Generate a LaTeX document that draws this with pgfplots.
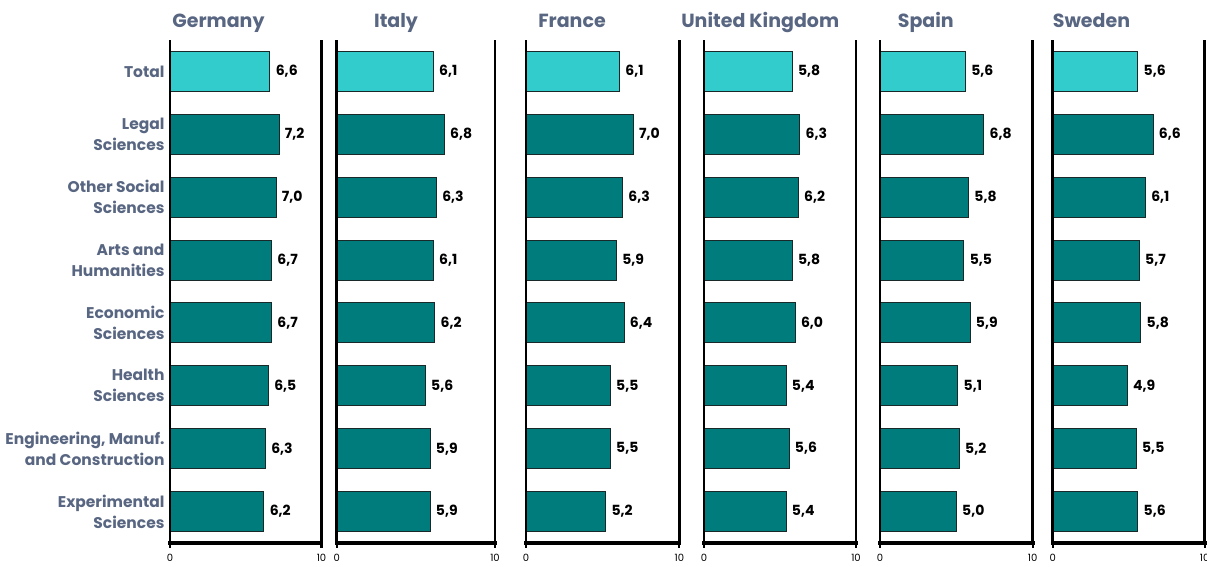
\documentclass[border=0pt]{standalone}
\usepackage{pgfplots}
\pgfplotsset{compat=1.18}
\usepackage{fontspec}
\setmainfont{Poppins}
\definecolor{lab}{RGB}{88,102,130}
\definecolor{tot}{RGB}{51,204,204}
\definecolor{oth}{RGB}{0,124,124}
\definecolor{edge}{RGB}{25,40,40}

\pgfplotsset{
  panel/.style n args={5}{
    name=#5,
    scale only axis, anchor=south west, at={(#1pt,24pt)},
    width=#2pt, height=503pt, clip=false,
    xmin=0, xmax=10, ymin=-0.5, ymax=7.5,
    xbar, bar width=40pt, bar shift=0pt,
    axis x line*=bottom, axis y line*=left,
    axis line style={-, line width=2.8pt, black},
    xtick={0,10}, xtick align=outside, major tick length=5pt,
    x tick style={line width=2.2pt, black},
    xticklabel style={font=\fontsize{10}{11}\selectfont, yshift=-3pt},
    /pgf/number format/assume math mode=true,
    ytick={0,...,7}, y tick style={draw=none},
    yticklabels={},
    point meta=x,
    nodes near coords={\pgfmathprintnumber[fixed,fixed zerofill,precision=1,use comma,assume math mode=true]{\pgfplotspointmeta}},
    nodes near coords style={font=\bfseries\fontsize{14}{15}\selectfont, black, anchor=west, xshift=2pt},
    title={#3},
    title style={at={(#4,1)}, anchor=base, yshift=7pt, font=\bfseries\fontsize{19}{22}\selectfont, text=lab},
  },
  totbar/.style={fill=tot, draw=edge, line width=1pt, bar shift=0pt},
  othbar/.style={fill=oth, draw=edge, line width=1pt, bar shift=0pt},
}
\newcommand\frameit[1]{%
  \draw[line width=2.8pt, black] (#1.north west) -- (#1.south west);
  \draw[line width=3.6pt, black, line cap=rect] (#1.south west) -- (#1.south east);
  \draw[line width=2.8pt, black] (#1.south east) -- (#1.north east);}

\begin{document}
\begin{tikzpicture}
\useasboundingbox (0,0) rectangle (1207pt,567pt);

% Germany
\begin{axis}[panel={170}{151.5}{Germany}{0.32}{de},
  yticklabels={{Experimental\\Sciences},{Engineering, Manuf.\\and Construction},{Health\\Sciences},{Economic\\Sciences},{Arts and\\Humanities},{Other Social\\Sciences},{Legal\\Sciences},{Total}},
  yticklabel style={align=right, font=\bfseries\fontsize{15.5}{21}\selectfont, text=lab, xshift=3pt}]
\addplot[totbar] coordinates {(6.6,7)};
\addplot[othbar] coordinates {(7.2,6) (7.0,5) (6.7,4) (6.7,3) (6.5,2) (6.3,1) (6.2,0)};
\end{axis}
\frameit{de}

% Italy
\begin{axis}[panel={336.7}{158.3}{Italy}{0.375}{it}]
\addplot[totbar] coordinates {(6.1,7)};
\addplot[othbar] coordinates {(6.8,6) (6.3,5) (6.1,4) (6.2,3) (5.6,2) (5.9,1) (5.9,0)};
\end{axis}
\frameit{it}

% France
\begin{axis}[panel={526}{153.3}{France}{0.30}{fr}]
\addplot[totbar] coordinates {(6.1,7)};
\addplot[othbar] coordinates {(7.0,6) (6.3,5) (5.9,4) (6.4,3) (5.5,2) (5.5,1) (5.2,0)};
\end{axis}
\frameit{fr}

% United Kingdom
\begin{axis}[panel={704}{152}{United Kingdom}{0.37}{uk}]
\addplot[totbar] coordinates {(5.8,7)};
\addplot[othbar] coordinates {(6.3,6) (6.2,5) (5.8,4) (6.0,3) (5.4,2) (5.6,1) (5.4,0)};
\end{axis}
\frameit{uk}

% Spain
\begin{axis}[panel={880}{152.7}{Spain}{0.30}{es}]
\addplot[totbar] coordinates {(5.6,7)};
\addplot[othbar] coordinates {(6.8,6) (5.8,5) (5.5,4) (5.9,3) (5.1,2) (5.2,1) (5.0,0)};
\end{axis}
\frameit{es}

% Sweden
\begin{axis}[panel={1052.7}{152}{Sweden}{0.255}{se}]
\addplot[totbar] coordinates {(5.6,7)};
\addplot[othbar] coordinates {(6.6,6) (6.1,5) (5.7,4) (5.8,3) (4.9,2) (5.5,1) (5.6,0)};
\end{axis}
\frameit{se}

\end{tikzpicture}
\end{document}
